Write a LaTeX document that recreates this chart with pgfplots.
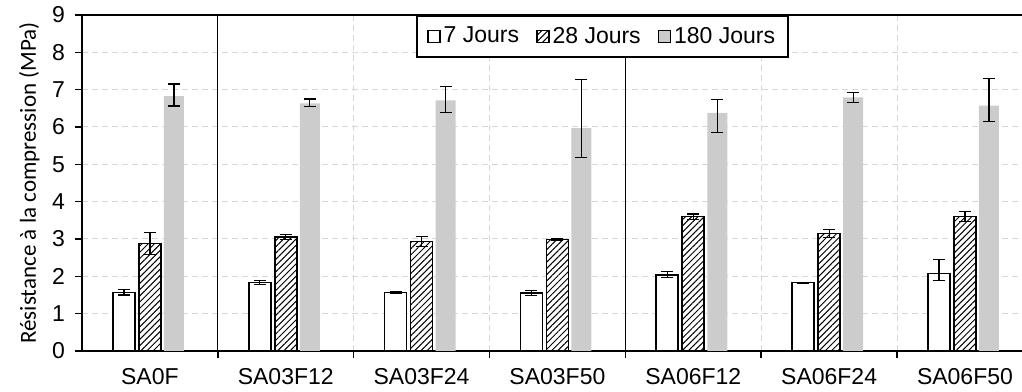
\documentclass[border=0pt]{standalone}
\usepackage{fontspec}
\setmainfont{Liberation Sans}
\newfontfamily\carlito{Carlito}
\usepackage{pgfplots}
\pgfplotsset{compat=1.18}
\usetikzlibrary{patterns.meta}

\definecolor{barGray}{RGB}{204,204,204}
\definecolor{gridGray}{RGB}{215,215,215}

\pgfplotsset{
  sqlegend/.style={
    legend image code/.code={\draw[##1, line width=0.7pt] (0pt,-3pt) rectangle (6pt,3pt);}},
}

\begin{document}
\begin{tikzpicture}
\begin{axis}[
  name=ax,
  scale only axis, width=470pt, height=168pt,
  xmin=-0.5, xmax=6.42, ymin=0, ymax=9,
  ybar=2pt, bar width=11pt,
  axis x line*=bottom, axis y line*=left,
  axis line style={-, line width=1pt},
  /pgf/number format/assume math mode=true,
  tick label style={font=\fontsize{11.5}{13.8}\selectfont, black},
  xtick={0.5,1.5,...,5.5},
  xticklabels={},
  xmajorgrids=true,
  extra x ticks={0,...,6},
  extra x tick labels={SA0F,SA03F12,SA03F24,SA03F50,SA06F12,SA06F24,SA06F50},
  extra x tick style={grid=none, major tick length=0pt, xticklabel style={yshift=-5pt}},
  ytick={0,...,9},
  ymajorgrids=true,
  tick align=outside,
  major tick length=3.5pt,
  tick style={black, line width=0.8pt},
  yticklabel style={xshift=-1.5pt},
  grid style={gridGray, dash pattern=on 3pt off 2pt, line width=0.5pt},
  ylabel={\carlito Résistance à la compression (MPa)},
  ylabel style={at={(axis description cs:-0.0745,0.5)}, anchor=north, font=\fontsize{11.5}{13}\selectfont},
  legend columns=3,
  legend style={at={(0.554,1)}, anchor=north, draw=black, line width=1pt, fill=white,
    font=\fontsize{11.5}{13.8}\selectfont, inner xsep=5pt, inner ysep=4pt,
    nodes={inner sep=1.5pt},
    /tikz/every even column/.append style={column sep=7pt}},
  error bars/y dir=both, error bars/y explicit,
  error bars/error bar style={line width=0.6pt, black},
  error bars/error mark options={rotate=90, mark size=3pt, line width=0.6pt, black},
]
\addplot[sqlegend, draw=black, fill=white, line width=0.8pt] coordinates {
  (0,1.57) +- (0,0.07)
  (1,1.83) +- (0,0.05)
  (2,1.57) +- (0,0.02)
  (3,1.55) +- (0,0.07)
  (4,2.04) +- (0,0.08)
  (5,1.83) +- (0,0.01)
  (6,2.08) += (0,0.38) -= (0,0.20)
};
\addlegendentry{7 Jours}
\addplot[sqlegend, draw=black, line width=0.8pt,
  postaction={pattern={Lines[angle=45, distance=2.2pt, line width=0.5pt]}, pattern color=black},
  fill=white] coordinates {
  (0,2.88) += (0,0.29) -= (0,0.30)
  (1,3.06) +- (0,0.07)
  (2,2.93) +- (0,0.13)
  (3,2.99) +- (0,0.03)
  (4,3.60) +- (0,0.07)
  (5,3.15) +- (0,0.10)
  (6,3.60) +- (0,0.13)
};
\addlegendentry{28 Jours}
\addplot[sqlegend, bar width=10pt, draw=none, fill=barGray] coordinates {
  (0,6.83) += (0,0.32) -= (0,0.27)
  (1,6.63) += (0,0.12) -= (0,0.08)
  (2,6.71) += (0,0.37) -= (0,0.33)
  (3,5.97) += (0,1.31) -= (0,0.78)
  (4,6.38) += (0,0.36) -= (0,0.52)
  (5,6.79) += (0,0.14) -= (0,0.13)
  (6,6.57) += (0,0.73) -= (0,0.43)
};
\addlegendentry{180 Jours}
\draw[black, line width=0.6pt] (axis cs:0.5,0) -- (axis cs:0.5,9);
\draw[black, line width=0.6pt] (axis cs:3.5,0) -- (axis cs:3.5,9);
\draw[black, line width=1pt] (rel axis cs:0,1) -- (rel axis cs:1,1);
\end{axis}
\pgfresetboundingbox
\path ([shift={(-41pt,-20.5pt)}]ax.south west) rectangle ([shift={(0pt,7.5pt)}]ax.north east);
\end{tikzpicture}
\end{document}
